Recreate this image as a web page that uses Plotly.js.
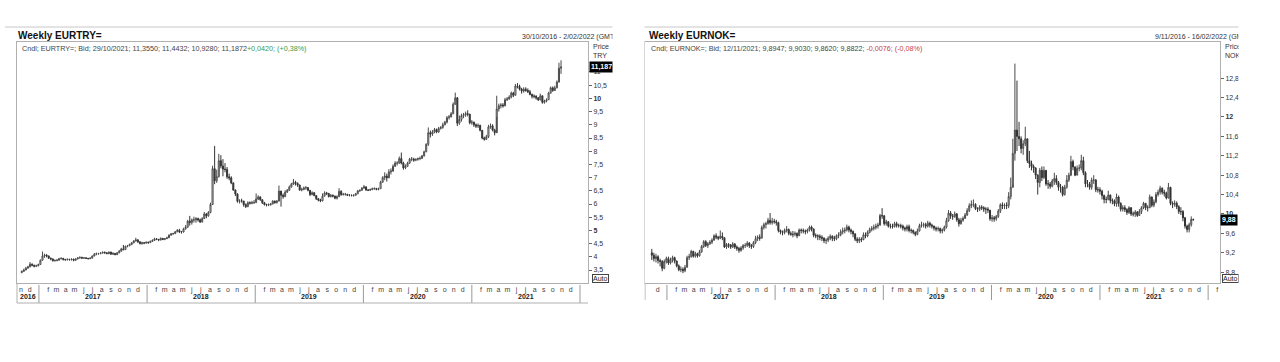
<!DOCTYPE html>
<html><head><meta charset="utf-8">
<script src="https://cdn.plot.ly/plotly-3.0.1.min.js"></script>
<style>html,body{margin:0;padding:0;background:#fff;}#chart{width:1280px;height:362px;}</style>
</head><body><div id="chart"></div>
<script>
// ---------------- DATA: EURTRY weekly (Fridays from 2016-11-04) ----------------
const tryStart = '2016-11-04';
const tryOpen0 = 3.40;
const tryClose = [
 3.45,3.50,3.57,3.62,3.72,3.68,3.64,3.66,3.71,
 3.87,4.03,4.06,4.03, 3.95,3.92,3.85,3.86, 3.87,3.93,3.94,3.90,3.89, 3.90,3.89,3.91,3.87, 3.92,3.96,3.98,3.95, 3.96,3.94,3.93,3.95,4.03,
 4.10,4.12,4.12,4.14, 4.17,4.15,4.12,4.18, 4.10,4.13,4.08,4.15,4.21, 4.30,4.27,4.40,4.42, 4.47,4.53,4.60,4.64, 4.57,4.50,4.53,4.52,4.55,
 4.54,4.58,4.62,4.68, 4.66,4.64,4.70,4.66, 4.69,4.72,4.82,4.87,4.88, 4.95,5.00,4.95,4.94, 5.06,5.12,5.35,5.30, 5.40,5.40,5.45,5.40,5.32,
 5.45,5.62,5.55,5.68, 5.98,7.34,6.88,7.04,7.64, 7.44,7.32,7.31,7.03, 6.99,6.80,6.53,6.38, 6.10,6.12,6.11,5.98,5.90, 6.05,6.03,6.05,6.06,
 6.19,6.27,6.16,6.05, 5.98,5.96,5.97,6.00, 6.11,6.05,6.11,6.49,6.33, 6.28,6.45,6.52,6.64, 6.75,6.82,6.78,6.72,6.53, 6.55,6.61,6.62,6.52,
 6.36,6.43,6.32,6.20, 6.15,6.12,6.30,6.42,6.40, 6.28,6.33,6.30,6.22, 6.28,6.48,6.36,6.37, 6.37,6.33,6.33,6.32,6.33, 6.39,6.50,6.52,6.60,
 6.65,6.53,6.52,6.55,6.58, 6.59,6.55,6.58,6.83, 7.00,7.06,6.99,7.22, 7.25,7.43,7.55,7.55, 7.72,7.55,7.37,7.43,7.55, 7.70,7.70,7.66,7.69,
 7.72,7.73,7.82,7.98,8.26, 8.70,8.65,8.72,8.82, 8.73,8.86,8.90,9.00, 9.10,9.27,9.30,9.42,9.78, 10.02,9.06,9.20,9.35, 9.38,9.42,9.40,9.08,
 9.10,9.00,8.95,8.98,8.79, 8.50,8.45,8.55,8.92, 8.96,8.80,8.70,9.60, 9.72,9.75,9.72,9.95,9.98, 10.05,10.20,10.12,10.47, 10.45,10.35,10.28,10.35,
 10.30,10.25,10.15,10.08,10.08, 10.02,9.95,10.10,9.85, 9.90,9.95,10.20,10.40, 10.30,10.40,10.62,11.145,11.1872
];
const tryHigh = [
 3.48,3.55,3.62,3.66,3.80,3.75,3.70,3.70,3.74,
 3.90,4.20,4.12,4.10, 4.05,3.97,3.93,3.90, 3.92,3.96,3.98,3.96,3.92, 3.94,3.93,3.94,3.93, 3.94,3.98,4.01,4.00, 3.98,3.98,3.96,3.98,4.05,
 4.14,4.16,4.15,4.17, 4.20,4.20,4.17,4.20, 4.19,4.17,4.14,4.18,4.26, 4.34,4.45,4.42,4.45, 4.50,4.56,4.63,4.72, 4.67,4.58,4.57,4.56,4.58,
 4.58,4.62,4.66,4.72, 4.71,4.68,4.73,4.71, 4.71,4.76,4.85,4.90,4.91, 4.98,5.05,5.06,4.98, 5.10,5.20,5.40,5.55, 5.45,5.52,5.50,5.48,5.45,
 5.50,5.70,5.66,5.73, 6.05,7.45,8.20,7.30,7.90, 7.85,7.70,7.55,7.40, 7.15,7.05,6.82,6.55, 6.40,6.18,6.20,6.12,6.02, 6.10,6.10,6.12,6.15,
 6.40,6.33,6.29,6.18, 6.08,6.01,6.02,6.04, 6.14,6.13,6.15,6.70,6.50, 6.40,6.52,6.57,6.70, 6.80,6.95,6.88,6.82,6.73, 6.62,6.66,6.68,6.64,
 6.52,6.48,6.44,6.33, 6.23,6.20,6.40,6.48,6.46, 6.42,6.38,6.36,6.32, 6.33,6.60,6.52,6.42, 6.42,6.38,6.37,6.36,6.36, 6.42,6.53,6.55,6.64,
 6.72,6.66,6.56,6.58,6.62, 6.63,6.61,6.62,6.88, 7.05,7.20,7.15,7.32, 7.35,7.50,7.62,7.62, 7.80,7.95,7.60,7.50,7.60, 7.75,7.78,7.75,7.73,
 7.76,7.80,7.86,8.02,8.30, 8.90,8.78,8.80,8.88, 8.86,8.92,8.95,9.08, 9.15,9.33,9.37,9.48,9.85, 10.22,10.05,9.35,9.42, 9.45,9.50,9.55,9.42,
 9.18,9.12,9.05,9.05,9.00, 8.80,8.55,8.62,9.00, 9.05,9.02,8.85,10.10, 9.80,9.82,9.82,10.02,10.05, 10.12,10.26,10.25,10.55, 10.58,10.52,10.40,10.42,
 10.42,10.38,10.32,10.18,10.15, 10.12,10.05,10.18,10.10, 9.95,10.00,10.25,10.45, 10.45,10.48,10.68,11.35,11.4432
];
const tryLow = [
 3.38,3.43,3.49,3.55,3.60,3.64,3.60,3.62,3.64,
 3.70,3.86,3.96,3.98, 3.92,3.87,3.82,3.82, 3.83,3.86,3.90,3.86,3.85, 3.86,3.86,3.86,3.83, 3.85,3.90,3.93,3.93, 3.93,3.92,3.90,3.91,3.94,
 4.02,4.06,4.08,4.10, 4.12,4.12,4.10,4.10, 4.08,4.07,4.06,4.07,4.14, 4.20,4.25,4.26,4.36, 4.40,4.44,4.51,4.58, 4.52,4.47,4.46,4.48,4.50,
 4.49,4.52,4.56,4.60, 4.63,4.59,4.62,4.63, 4.63,4.67,4.71,4.80,4.83, 4.86,4.93,4.90,4.88, 4.92,5.03,5.10,5.18, 5.22,5.30,5.29,5.33,5.28,
 5.30,5.43,5.46,5.52, 5.65,5.96,6.75,6.80,7.00, 7.35,7.05,7.20,6.95, 6.90,6.75,6.50,6.30, 6.05,6.02,6.05,5.90,5.85, 5.88,5.98,5.99,6.00,
 6.03,6.15,6.12,6.00, 5.94,5.91,5.92,5.94, 5.99,6.01,6.02,6.10,5.90, 6.20,6.26,6.42,6.50, 6.62,6.72,6.70,6.65,6.50, 6.48,6.52,6.54,6.48,
 6.30,6.33,6.29,6.15, 6.10,6.07,6.10,6.28,6.34, 6.25,6.25,6.25,6.18, 6.17,6.26,6.31,6.32, 6.32,6.30,6.29,6.29,6.28, 6.32,6.37,6.46,6.50,
 6.58,6.50,6.49,6.50,6.52, 6.54,6.52,6.52,6.58, 6.80,6.90,6.85,6.98, 7.12,7.22,7.40,7.46, 7.52,7.50,7.30,7.32,7.40, 7.52,7.62,7.60,7.62,
 7.64,7.66,7.70,7.80,7.96, 8.20,8.52,8.58,8.68, 8.68,8.70,8.82,8.85, 8.98,9.05,9.20,9.28,9.40, 9.75,8.95,9.00,9.12, 9.25,9.30,9.32,9.02,
 9.00,8.92,8.88,8.88,8.75, 8.45,8.40,8.42,8.50, 8.85,8.75,8.60,9.30, 9.50,9.62,9.65,9.70,9.90, 9.95,10.00,10.05,10.10, 10.38,10.30,10.18,10.22,
 10.25,10.20,10.12,10.00,10.00, 9.95,9.90,9.92,9.80, 9.80,9.85,9.95,10.18, 10.25,10.28,10.38,10.60,10.928
];

// ---------------- DATA: EURNOK weekly (Fridays from 2016-11-11) ----------------
const nokStart = '2016-11-11';
const nokOpen0 = 9.20;
const nokClose = [
 9.15,9.08,9.12,9.04,9.02,8.88,9.02,9.08,
 8.99,9.05,9.10,9.03, 8.93,8.85,8.86,8.83, 8.90,9.10,9.12,9.23,9.13, 9.18,9.14,9.22,9.33, 9.43,9.35,9.39,9.42, 9.46,9.55,9.52,9.50,9.54,
 9.51,9.32,9.37,9.36, 9.32,9.38,9.32,9.29, 9.25,9.30,9.35,9.35,9.40, 9.35,9.33,9.41,9.49, 9.52,9.50,9.72,9.78, 9.80,9.87,9.82,9.85,9.84,
 9.82,9.66,9.63,9.62, 9.66,9.68,9.60,9.58, 9.58,9.60,9.55,9.67,9.66, 9.65,9.64,9.67,9.73, 9.69,9.56,9.55,9.54, 9.52,9.50,9.45,9.46,9.50,
 9.54,9.50,9.49,9.55, 9.57,9.63,9.65,9.67,9.73, 9.67,9.64,9.59,9.48, 9.45,9.48,9.47,9.57, 9.55,9.62,9.68,9.70,9.72, 9.75,9.77,9.97,9.96,
 9.80,9.84,9.75,9.75, 9.74,9.80,9.76,9.76, 9.75,9.71,9.69,9.74,9.66, 9.66,9.62,9.58,9.65, 9.76,9.78,9.78,9.75,9.81, 9.77,9.75,9.71,9.69,
 9.70,9.65,9.67,9.73, 9.86,10.02,9.96,9.95,10.00, 9.88,9.80,9.87,9.91, 9.98,10.07,10.17,10.20, 10.20,10.11,10.10,10.14,10.13, 10.10,10.10,10.08,9.90,
 9.92,9.90,9.95,10.06,10.19, 10.17,10.18,10.17,10.36, 10.55,11.25,11.73,11.60, 11.55,11.35,11.45,11.55, 11.10,11.04,10.98,10.95,10.80, 10.65,10.90,10.75,10.90,
 10.62,10.62,10.57,10.68,10.73, 10.65,10.55,10.55,10.40, 10.55,10.70,10.80,11.08, 10.97,10.80,10.94,10.95,11.10, 10.85,10.62,10.62,10.55, 10.70,10.70,10.50,10.50,
 10.47,10.38,10.30,10.30,10.39, 10.28,10.27,10.21,10.35, 10.22,10.10,10.13,10.09, 10.03,10.13,10.00,10.00,10.04, 9.97,10.05,10.13,10.22, 10.13,10.13,10.35,10.18,
 10.25,10.40,10.45,10.53,10.45, 10.43,10.33,10.55,10.22, 10.20,10.22,10.15,10.05, 10.05,9.92,9.75,9.68,9.78, 9.8898,9.8822
];
const nokHigh = [
 9.28,9.20,9.18,9.15,9.08,9.05,9.06,9.12,
 9.12,9.10,9.14,9.12, 9.04,8.96,8.92,8.90, 8.95,9.14,9.18,9.26,9.24, 9.22,9.20,9.26,9.36, 9.46,9.46,9.42,9.46, 9.50,9.58,9.60,9.55,9.66,
 9.62,9.52,9.40,9.40, 9.38,9.42,9.40,9.35, 9.32,9.34,9.38,9.40,9.44, 9.42,9.38,9.44,9.55, 9.56,9.58,9.76,9.82, 9.84,9.92,10.02,9.92,9.90,
 9.88,9.84,9.68,9.66, 9.70,9.75,9.70,9.64, 9.65,9.64,9.62,9.70,9.70, 9.70,9.68,9.70,9.76, 9.76,9.70,9.60,9.58, 9.58,9.56,9.52,9.50,9.54,
 9.58,9.56,9.55,9.58, 9.62,9.68,9.72,9.72,9.78, 9.76,9.70,9.66,9.60, 9.52,9.52,9.52,9.62, 9.62,9.66,9.72,9.75,9.78, 9.80,9.82,10.00,10.12,
 9.98,9.88,9.85,9.80, 9.80,9.84,9.84,9.80, 9.80,9.78,9.74,9.78,9.78, 9.70,9.68,9.64,9.70, 9.80,9.84,9.82,9.82,9.86, 9.84,9.80,9.76,9.74,
 9.74,9.72,9.70,9.76, 9.92,10.08,10.06,10.00,10.05, 10.02,9.92,9.92,9.95, 10.02,10.12,10.22,10.28, 10.30,10.22,10.14,10.18,10.18, 10.16,10.14,10.14,10.06,
 9.98,9.96,9.98,10.10,10.22, 10.24,10.22,10.24,10.45, 10.75,11.55,13.10,12.75, 11.90,11.60,11.52,11.80, 11.55,11.30,11.10,11.02,10.96, 10.82,10.95,10.98,10.98,
 10.90,10.70,10.66,10.72,10.85, 10.80,10.68,10.62,10.58, 10.60,10.80,10.85,11.20, 11.12,10.98,11.00,11.02,11.22, 11.18,10.88,10.70,10.66, 10.75,10.80,10.72,10.56,
 10.55,10.50,10.40,10.36,10.48, 10.40,10.32,10.30,10.42, 10.38,10.24,10.18,10.18, 10.12,10.16,10.14,10.05,10.08, 10.06,10.10,10.16,10.25, 10.22,10.18,10.40,10.36,
 10.30,10.45,10.50,10.58,10.55, 10.50,10.46,10.64,10.56, 10.26,10.28,10.26,10.18, 10.14,10.08,9.94,9.78,9.82, 9.95,9.903
];
const nokLow = [
 9.05,9.02,9.00,8.98,8.92,8.82,8.86,8.98,
 8.95,8.96,9.00,8.98, 8.90,8.82,8.80,8.78, 8.80,8.90,9.05,9.10,9.10, 9.10,9.10,9.12,9.20, 9.30,9.32,9.30,9.36, 9.38,9.45,9.48,9.46,9.48,
 9.46,9.30,9.28,9.30, 9.28,9.30,9.28,9.24, 9.20,9.22,9.26,9.30,9.32, 9.30,9.28,9.30,9.38, 9.44,9.45,9.50,9.68, 9.70,9.78,9.78,9.78,9.80,
 9.76,9.62,9.58,9.56, 9.58,9.62,9.56,9.55, 9.52,9.54,9.50,9.55,9.60, 9.60,9.58,9.60,9.64, 9.64,9.52,9.50,9.46, 9.46,9.44,9.40,9.38,9.42,
 9.46,9.44,9.44,9.46, 9.50,9.54,9.58,9.60,9.64, 9.62,9.58,9.52,9.44, 9.40,9.40,9.42,9.46, 9.50,9.52,9.60,9.64,9.66, 9.68,9.70,9.76,9.90,
 9.76,9.76,9.72,9.70, 9.70,9.72,9.72,9.72, 9.70,9.66,9.64,9.64,9.62, 9.60,9.58,9.54,9.56, 9.64,9.72,9.72,9.70,9.72, 9.72,9.70,9.66,9.64,
 9.64,9.60,9.60,9.64, 9.70,9.84,9.90,9.88,9.92, 9.84,9.74,9.78,9.84, 9.90,9.96,10.04,10.12, 10.14,10.08,10.04,10.06,10.08, 10.04,10.00,10.02,9.86,
 9.84,9.84,9.86,9.92,10.02, 10.10,10.10,10.10,10.12, 10.30,10.60,11.10,11.30, 11.40,11.25,11.22,11.40, 11.05,10.95,10.90,10.85,10.72, 10.40,10.55,10.68,10.72,
 10.58,10.52,10.52,10.55,10.60, 10.60,10.48,10.44,10.36, 10.38,10.52,10.66,10.78, 10.90,10.78,10.80,10.88,10.90, 10.80,10.55,10.55,10.50, 10.50,10.62,10.45,10.44,
 10.40,10.30,10.22,10.22,10.28, 10.22,10.20,10.16,10.15, 10.15,10.05,10.05,10.04, 9.98,10.00,9.96,9.95,9.94, 9.94,9.96,10.00,10.10, 10.08,10.05,10.12,10.14,
 10.14,10.22,10.36,10.40,10.40, 10.36,10.30,10.32,10.18, 10.12,10.15,10.10,10.00, 9.98,9.85,9.70,9.62,9.62, 9.74,9.862
];

// ---------------- axis labels ----------------
const tryTickVals = [3.5,4,4.5,5,5.5,6,6.5,7,7.5,8,8.5,9,9.5,10,10.5,11];
const tryTickText = ['3,5','4','4,5','<b>5</b>','5,5','6','6,5','7','7,5','8','8,5','9','9,5','<b>10</b>','10,5','11'];
const nokTickVals = [8.8,9.2,9.6,10,10.4,10.8,11.2,11.6,12,12.4,12.8];
const nokTickText = ['8,8','9,2','9,6','<b>10</b>','10,4','10,8','11,2','11,6','<b>12</b>','12,4','12,8'];
const monthLetters = ['j','f','m','a','m','j','j','a','s','o','n','d'];
const tryMonthsFrom = '2016-11', tryMonthsTo = '2021-12';
const nokMonthsFrom = '2016-12', nokMonthsTo = '2022-02';
const tryYearLabels = [2016,2017,2018,2019,2020,2021];
const nokYearLabels = [2017,2018,2019,2020,2021];
const tryYearBounds = [2017,2018,2019,2020,2021,2022];
const nokYearBounds = [2017,2018,2019,2020,2021,2022];
const tryRange = ['2016-10-19','2022-01-28'];
const nokRange = ['2016-10-19','2022-02-10'];

// ---------------- helpers ----------------
const W = 1280, H = 362;
const px = x => x / W, py = y => 1 - y / H;
const FONT = '"Liberation Sans", Arial, sans-serif';
function weekly(start, n) {
  const out = []; const t0 = Date.parse(start + 'T00:00:00Z');
  for (let i = 0; i < n; i++) out.push(new Date(t0 + i * 7 * 86400000).toISOString().slice(0, 10));
  return out;
}
function opens(o0, close) { return [o0].concat(close.slice(0, -1)); }
function monthTicks(from, to) {
  let [y, m] = from.split('-').map(Number); const [ty, tm] = to.split('-').map(Number);
  const vals = [], text = [];
  while (y < ty || (y === ty && m <= tm)) {
    if (m !== 1) { vals.push(`${y}-${String(m).padStart(2,'0')}-01`); text.push(monthLetters[m - 1]); }
    m++; if (m > 12) { m = 1; y++; }
  }
  return {vals, text};
}
function yearMid(yr, range) {
  const a = Math.max(Date.parse(yr + '-01-01'), Date.parse(range[0]));
  const b = Math.min(Date.parse((yr + 1) + '-01-01'), Date.parse(range[1]));
  return new Date((a + b) / 2).toISOString().slice(0, 10);
}
const fmt = (v, d) => v.toFixed(d).replace('.', ',');

const tryDates = weekly(tryStart, tryClose.length);
const nokDates = weekly(nokStart, nokClose.length);
const tryM = monthTicks(tryMonthsFrom, tryMonthsTo);
const nokM = monthTicks(nokMonthsFrom, nokMonthsTo);

function candle(x, c, h, l, o0, xa, ya) {
  return {type: 'candlestick', x: x, open: opens(o0, c), high: h, low: l, close: c,
    xaxis: xa, yaxis: ya, whiskerwidth: 0, hoverinfo: 'skip',
    increasing: {line: {color: '#4a4a4a', width: 1}, fillcolor: '#ffffff'},
    decreasing: {line: {color: '#333333', width: 1}, fillcolor: '#333333'}};
}
const traces = [
  candle(tryDates, tryClose, tryHigh, tryLow, tryOpen0, 'x', 'y'),
  candle(nokDates, nokClose, nokHigh, nokLow, nokOpen0, 'x2', 'y2')
];

function xax(dom, range, m) {
  return {domain: dom, range: range, type: 'date', showline: true, mirror: true, linecolor: '#b0b0b0', linewidth: 1,
    showgrid: false, zeroline: false, ticks: '', tickmode: 'array', tickvals: m.vals, ticktext: m.text,
    tickfont: {family: FONT, size: 7, color: '#444444'}, rangeslider: {visible: false}, fixedrange: true};
}
function yax(dom, range, vals, text, anchor) {
  return {domain: dom, range: range, side: 'right', anchor: anchor, showline: true, mirror: true,
    linecolor: '#b0b0b0', linewidth: 1, showgrid: false, zeroline: false, ticks: 'outside', ticklen: 3,
    tickcolor: '#666', tickmode: 'array', tickvals: vals, ticktext: text,
    tickfont: {family: FONT, size: 7, color: '#333'}, fixedrange: true};
}

const ann = [];
const shapes = [];
function txt(x, y, text, opt) {
  ann.push(Object.assign({xref: 'paper', yref: 'paper', x: px(x), y: py(y), text: text, showarrow: false,
    xanchor: 'left', yanchor: 'middle', font: {family: FONT, size: 7, color: '#333'}}, opt || {}));
}
function line(x0, y0, x1, y1, color) {
  shapes.push({type: 'line', xref: 'paper', yref: 'paper', x0: px(x0), y0: py(y0), x1: px(x1), y1: py(y1),
    line: {color: color || '#b0b0b0', width: 1}, layer: 'above'});
}

// ---- left panel decorations
line(5, 27, 613, 27, '#c8c8c8');
txt(16, 35, '<b>Weekly EURTRY=</b>', {font: {family: FONT, size: 10, color: '#111'}});
txt(520, 37, '30/10/2016 - 2/02/2022 (GMT)');
txt(20, 48, 'Cndl; EURTRY=; Bid; 29/10/2021; 11,3550; 11,4432; 10,9280; 11,1872<span style="color:#3c9a3c">+0,0420; (+0,38%)</span>', {font: {family: FONT, size: 7.2, color: '#444'}});
txt(591, 46, 'Price'); txt(591, 55, 'TRY');
ann.push({xref: 'paper', yref: 'y', x: px(589), y: tryClose[tryClose.length - 1], text: '<b>' + fmt(tryClose[tryClose.length - 1], 3) + '</b>',
  showarrow: false, xanchor: 'left', yanchor: 'middle', bgcolor: '#000', borderpad: 1, font: {family: FONT, size: 7, color: '#fff'}});
txt(592, 278, 'Auto', {bordercolor: '#444', borderwidth: 1, borderpad: 0, font: {family: FONT, size: 7, color: '#222'}});
tryYearLabels.forEach(yr => ann.push({xref: 'x', yref: 'paper', x: yearMid(yr, tryRange), y: py(296), text: '<b>' + yr + '</b>',
  showarrow: false, xanchor: 'center', yanchor: 'middle', font: {family: FONT, size: 7, color: '#222'}}));
tryYearBounds.forEach(yr => shapes.push({type: 'line', xref: 'x', yref: 'paper', x0: yr + '-01-01', x1: yr + '-01-01',
  y0: py(285), y1: py(303), line: {color: '#999', width: 1}}));
line(17, 283, 17, 303); line(17, 303, 588, 303);

// ---- right panel decorations
line(640, 27, 1240, 27, '#c8c8c8');
txt(647, 35, '<b>Weekly EURNOK=</b>', {font: {family: FONT, size: 10, color: '#111'}});
txt(1153, 37, '9/11/2016 - 16/02/2022 (GMT)');
txt(649, 48, 'Cndl; EURNOK=; Bid; 12/11/2021; 9,8947; 9,9030; 9,8620; 9,8822; <span style="color:#c84040">-0,0076; (-0,08%)</span>', {font: {family: FONT, size: 7.2, color: '#444'}});
txt(1223, 46, 'Price'); txt(1223, 55, 'NOK');
ann.push({xref: 'paper', yref: 'y2', x: px(1220), y: nokClose[nokClose.length - 1], text: '<b>' + fmt(nokClose[nokClose.length - 1], 2) + '</b>',
  showarrow: false, xanchor: 'left', yanchor: 'middle', bgcolor: '#000', borderpad: 1, font: {family: FONT, size: 7, color: '#fff'}});
txt(1222, 278, 'Auto', {bordercolor: '#444', borderwidth: 1, borderpad: 0, font: {family: FONT, size: 7, color: '#222'}});
nokYearLabels.forEach(yr => ann.push({xref: 'x2', yref: 'paper', x: yearMid(yr, nokRange), y: py(296), text: '<b>' + yr + '</b>',
  showarrow: false, xanchor: 'center', yanchor: 'middle', font: {family: FONT, size: 7, color: '#222'}}));
nokYearBounds.forEach(yr => shapes.push({type: 'line', xref: 'x2', yref: 'paper', x0: yr + '-01-01', x1: yr + '-01-01',
  y0: py(285), y1: py(300), line: {color: '#999', width: 1}}));
line(645, 283, 645, 300);

// ---- white covers imitating the cropped screenshot edges
ann.push({xref: 'paper', yref: 'paper', x: px(612), y: 1, xanchor: 'left', yanchor: 'top', width: 31, height: 362,
  text: ' ', showarrow: false, bgcolor: '#ffffff', borderpad: 0});
ann.push({xref: 'paper', yref: 'paper', x: px(1238), y: 1, xanchor: 'left', yanchor: 'top', width: 42, height: 362,
  text: ' ', showarrow: false, bgcolor: '#ffffff', borderpad: 0});

const layout = {
  width: W, height: H, margin: {l: 0, r: 0, t: 0, b: 0}, paper_bgcolor: '#fff', plot_bgcolor: '#fff',
  showlegend: false, separators: ', ', font: {family: FONT, size: 7, color: '#333'},
  xaxis: xax([px(17), px(588)], tryRange, tryM),
  yaxis: yax([py(283), py(42)], [3.008, 12.136], tryTickVals, tryTickText, 'x'),
  xaxis2: Object.assign(xax([px(645), px(1220)], nokRange, nokM), {anchor: 'y2'}),
  yaxis2: yax([py(283), py(42)], [8.577, 13.546], nokTickVals, nokTickText, 'x2'),
  annotations: ann, shapes: shapes
};
layout.xaxis.anchor = 'y';
Plotly.newPlot('chart', traces, layout, {staticPlot: true, displayModeBar: false});
</script></body></html>
